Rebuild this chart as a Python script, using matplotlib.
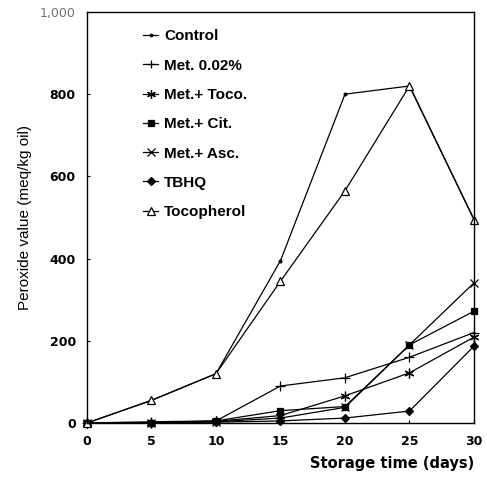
import matplotlib.pyplot as plt

plt.rcParams['font.family'] = ['Liberation Sans', 'DejaVu Sans']

days = [0, 5, 10, 15, 20, 25, 30]

control = [0, 55, 120, 395, 800, 820, 495]
met_002 = [0, 3, 5, 90, 110, 160, 220]
met_toco = [0, 1, 4, 18, 66, 122, 209]
met_cit = [0, 1, 5, 30, 40, 190, 272]
met_asc = [0, 1, 3, 12, 38, 190, 341]
tbhq = [0, 0, 2, 5, 12, 29, 187]
tocopherol = [0, 55, 120, 345, 565, 820, 495]

labels = ['Control', 'Met. 0.02%', 'Met.+ Toco.', 'Met.+ Cit.',
          'Met.+ Asc.', 'TBHQ', 'Tocopherol']
series = [control, met_002, met_toco, met_cit, met_asc, tbhq, tocopherol]
markers = ['.', '+', (6, 2, 0), 's', 'x', 'D', '^']
sizes = [4, 7, 7, 4.5, 6, 4, 6]
faces = ['k', 'k', 'k', 'k', 'k', 'k', 'white']

fig = plt.figure(figsize=(4.87, 4.78), dpi=100)
ax = fig.add_axes([0.1786, 0.1151, 0.7947, 0.8598])

for vals, lab, m, s, fc in zip(series, labels, markers, sizes, faces):
    ax.plot(days, vals, color='k', lw=0.9, marker=m, ms=s,
            mfc=fc, mec='k', mew=0.9, label=lab, clip_on=False)

ax.set_xlim(0, 30)
ax.set_ylim(0, 1000)
ax.set_xticks(days)
ax.set_yticks([0, 200, 400, 600, 800, 1000])
ax.set_yticklabels(['0', '200', '400', '600', '800', '1,000'])
ax.tick_params(direction='in', length=2, width=0.8, pad=8)
ax.tick_params(axis='x', pad=9)
for t in ax.get_xticklabels() + ax.get_yticklabels():
    t.set_fontfamily('DejaVu Sans')
    t.set_fontweight('bold')
    t.set_fontsize(9)
ax.get_yticklabels()[-1].set_color('0.45')
ax.get_yticklabels()[-1].set_fontweight('normal')

for sp in ax.spines.values():
    sp.set_linewidth(1.0)

ax.set_ylabel('Peroxide value (meq/kg oil)', fontsize=11, labelpad=6)
ax.set_xlabel('Storage time (days)', fontsize=10.5, fontweight='bold',
              fontfamily='DejaVu Sans')
ax.xaxis.set_label_coords(1.0, -0.08)
ax.xaxis.label.set_horizontalalignment('right')

leg = ax.legend(loc='upper left', bbox_to_anchor=(0.109, 0.991), frameon=False,
                handlelength=1.0, handletextpad=0.4, labelspacing=1.0,
                fontsize=11, markerscale=0.9)
for t in leg.get_texts():
    t.set_fontweight('bold')

fig.savefig('out.png', dpi=100)
